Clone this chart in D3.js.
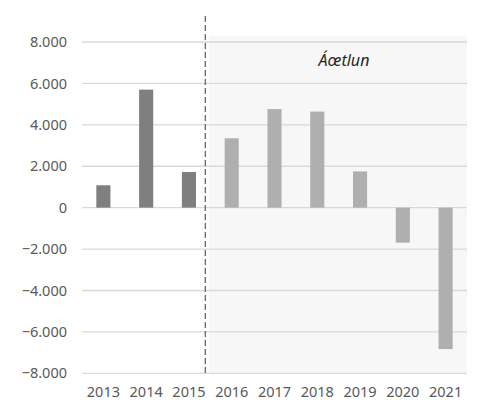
<!DOCTYPE html>
<html>
<head>
<meta charset="utf-8">
<script src="https://cdn.jsdelivr.net/npm/d3@7"></script>
<style>
  html, body { margin: 0; padding: 0; background: #fff; }
  svg text { font-family: "Century Gothic", "Noto Sans", sans-serif; }
</style>
</head>
<body>
<svg id="chart" width="477" height="403"></svg>
<script>
// Annual values (thousands separator "."), actuals 2013–2015, plan 2016–2021
const years = ["2013", "2014", "2015", "2016", "2017", "2018", "2019", "2020", "2021"];
const values = [1080, 5700, 1720, 3350, 4760, 4640, 1750, -1690, -6830];
const actualYears = ["2013", "2014", "2015"];
const yTicks = [-8000, -6000, -4000, -2000, 0, 2000, 4000, 6000, 8000];
const planLabel = "Áœtlun";

const svg = d3.select("#chart");
const margin = { left: 82, right: 10, top: 42, bottom: 30 };
const W = 477, H = 403;

const x = d3.scaleBand()
  .domain(years)
  .range([margin.left, W - margin.right])
  .paddingInner(0.67)
  .paddingOuter(0.335);

const xOuter = d3.scaleBand().domain(years).range([margin.left, W - margin.right]);

const y = d3.scaleLinear()
  .domain([-8000, 8000])
  .range([373.3, 42]);

// Shaded plan area (2016 onward)
const planStart = xOuter("2016");
svg.append("rect")
  .attr("x", planStart - 1.5)
  .attr("y", 36)
  .attr("width", (W - margin.right) - planStart + 1.5)
  .attr("height", y(-8000) - 36)
  .attr("fill", "#f7f7f7");

// Gridlines
svg.append("g")
  .selectAll("line")
  .data(yTicks)
  .join("line")
  .attr("x1", margin.left)
  .attr("x2", W - margin.right)
  .attr("y1", d => y(d))
  .attr("y2", d => y(d))
  .attr("stroke", "#d9d9d9")
  .attr("stroke-width", 1.3);

// Y axis labels
const fmt = d => d3.format(",")(d).replace(/,/g, ".");
const yAxis = d3.axisLeft(y).tickValues(yTicks).tickFormat(fmt).tickSize(0).tickPadding(15);
const gy = svg.append("g").attr("transform", `translate(${margin.left},0)`).call(yAxis);
gy.select(".domain").remove();
gy.selectAll("text").attr("fill", "#595959").style("font-size", "14.5px");

// Bars
svg.append("g")
  .selectAll("rect")
  .data(years.map((yr, i) => ({ yr, v: values[i] })))
  .join("rect")
  .attr("x", d => x(d.yr))
  .attr("width", x.bandwidth())
  .attr("y", d => y(Math.max(0, d.v)))
  .attr("height", d => Math.abs(y(d.v) - y(0)))
  .attr("fill", d => actualYears.includes(d.yr) ? "#7f7f7f" : "#afafaf");

// Dashed divider between actuals and plan
svg.append("line")
  .attr("x1", planStart - 5)
  .attr("x2", planStart - 5)
  .attr("y1", 16)
  .attr("y2", y(-8000))
  .attr("stroke", "#6e6e6e")
  .attr("stroke-width", 1.4)
  .attr("stroke-dasharray", "6,3");

// X axis labels
const xAxis = d3.axisBottom(xOuter).tickSize(0).tickPadding(13);
const gx = svg.append("g").attr("transform", `translate(0,${y(-8000)})`).call(xAxis);
gx.select(".domain").remove();
gx.selectAll("text").attr("fill", "#595959").style("font-size", "14.5px");

// Plan label
svg.append("text")
  .attr("x", 344)
  .attr("y", 66)
  .attr("text-anchor", "middle")
  .attr("fill", "#262626")
  .style("font-size", "16px")
  .style("font-style", "italic")
  .text(planLabel);
</script>
</body>
</html>
